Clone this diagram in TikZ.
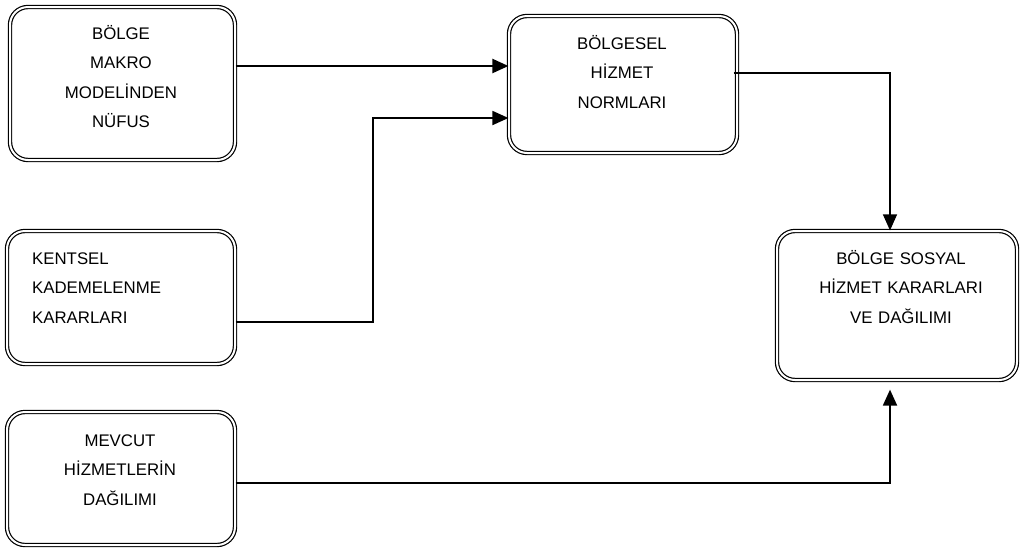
\documentclass[tikz,border=0pt]{standalone}
\usepackage{fontspec}
\setmainfont{Liberation Sans}
\usetikzlibrary{arrows.meta}
\begin{document}
\begin{tikzpicture}[x=1pt,y=-1pt,
  box/.style={draw=black, line width=1.2pt, double=white, double distance=2pt,
    rounded corners=18pt, inner sep=0pt},
  txt/.style={inner sep=0pt, text width=230pt, align=center, anchor=base,
    font=\fontsize{16.8}{29.6}\selectfont},
  arr/.style={-{Triangle[length=16pt,width=14pt]}, line width=1.8pt},
]
\useasboundingbox (0,0) rectangle (1020,550);
% boxes
\node[box, minimum width=225pt, minimum height=153pt] (b1) at (122.5,83.5) {};
\node[box, minimum width=228pt, minimum height=137pt] (b2) at (623,84.5) {};
\node[box, minimum width=228pt, minimum height=133pt] (b3) at (121,297.5) {};
\node[box, minimum width=228pt, minimum height=133pt] (b4) at (121,478.5) {};
\node[box, minimum width=240pt, minimum height=149pt] (b5) at (897,305.5) {};
% texts
\node[txt] (t1) at (121,39) {BÖLGE\\MAKRO\\MODELİNDEN\\NÜFUS};
\node[txt] (t2) at (622,49) {BÖLGESEL\\HİZMET\\NORMLARI};
\node[txt, align=left, anchor=base west] (t3) at (32,264.3) {KENTSEL\\KADEMELENME\\KARARLARI};
\node[txt] (t4) at (120,446) {MEVCUT\\HİZMETLERİN\\DAĞILIMI};
\node[txt] (t5) at (901,264) {BÖLGE SOSYAL\\HİZMET KARARLARI\\VE DAĞILIMI};
% connectors
\coordinate (s1) at ([yshift=17.5pt]b1.east);
\draw[arr, line width=2.2pt] (s1) -- (s1 -| b2.west);
\coordinate (s2) at ([yshift=-24.5pt]b3.east);
\coordinate (k2) at (373,118);
\draw[arr] (s2) -| (k2) -- (k2 -| b2.west);
\coordinate (s3) at ([yshift=11.5pt,xshift=-4pt]b2.east);
\draw[arr, line width=1.3pt] (s3) -| ([xshift=-7pt]b5.north);
\coordinate (s4) at ([yshift=-4.5pt]b4.east);
\draw[arr, shorten >=9pt] (s4) -| ([xshift=-7pt]b5.south);
\end{tikzpicture}
\end{document}
